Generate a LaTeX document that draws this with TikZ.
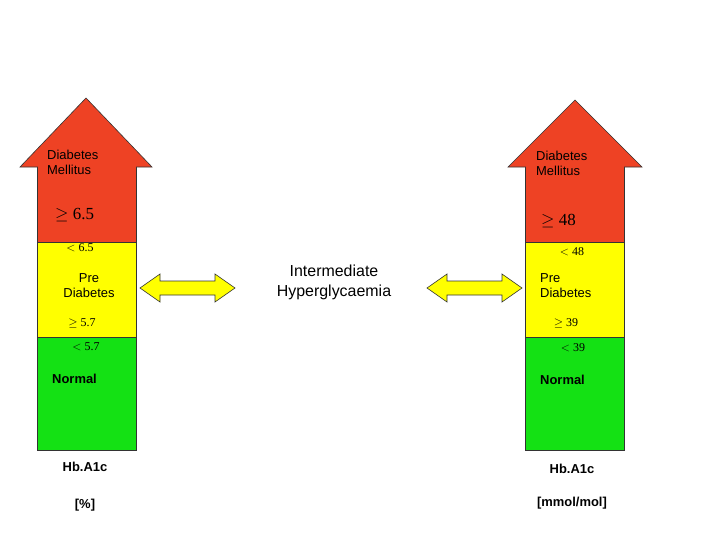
\documentclass[tikz,border=0pt]{standalone}
\usepackage{fontspec}
\setmainfont{Liberation Sans}
\newfontfamily\numfont{Liberation Serif}
\definecolor{dmred}{RGB}{238,66,36}
\definecolor{preyellow}{RGB}{255,255,0}
\definecolor{normgreen}{RGB}{20,225,20}
\tikzset{
  band/.style={draw=black!80,line width=0.6pt},
  lbl/.style={font=\fontsize{13}{15}\selectfont,align=left,inner sep=0pt},
  cut/.style={font=\numfont\fontsize{12}{14}\selectfont,inner sep=0pt},
  big/.style={font=\numfont\fontsize{17}{19}\selectfont,inner sep=0pt},
  dblarrow/.style={draw=black!80,fill=preyellow,line width=0.6pt}
}
\begin{document}
\begin{tikzpicture}[x=0.03528cm,y=-0.03528cm]
  \useasboundingbox (0,0) rectangle (720,540);
  % left column (%)
  \fill[white] (0,0) rectangle (720,540);
  \draw[band,fill=normgreen] (37,337) rectangle (136,450);
  \draw[band,fill=preyellow] (37,242) rectangle (136,337);
  \draw[band,fill=dmred] (37,167) rectangle (136,242);
  \draw[band,fill=dmred] (20,167) -- (86,98) -- (152,167) -- cycle;
  \fill[dmred] (37.5,166) rectangle (135.5,168);
  % right column (mmol/mol)
  \draw[band,fill=normgreen] (525,337) rectangle (624,450);
  \draw[band,fill=preyellow] (525,242) rectangle (624,337);
  \draw[band,fill=dmred] (525,167) rectangle (624,242);
  \draw[band,fill=dmred] (508,167) -- (575,100) -- (642,167) -- cycle;
  \fill[dmred] (525.5,166) rectangle (623.5,168);
  % double arrows
  \draw[dblarrow] (140,288) -- (160,274) -- (160,281) -- (215,281) -- (215,274)
    -- (235,288) -- (215,302) -- (215,295) -- (160,295) -- (160,302) -- cycle;
  \draw[dblarrow] (427,288) -- (447,274) -- (447,281) -- (502,281) -- (502,274)
    -- (522,288) -- (502,302) -- (502,295) -- (447,295) -- (447,302) -- cycle;
  % labels left
  \node[lbl,anchor=west] (dmL) at (47,162) {Diabetes\\Mellitus};
  \node[big,anchor=west] (dmcutL) at (55,215) {$\geq$ 6.5};
  \node[cut] (preupL) at (80,248) {$<$ 6.5};
  \node[lbl,align=center] (preL) at (89,286) {Pre\\Diabetes};
  \node[cut] (prelowL) at (82,323) {$\geq$ 5.7};
  \node[cut] (normupL) at (86,347) {$<$ 5.7};
  \node[lbl,anchor=west,font=\bfseries\fontsize{13}{15}\selectfont] (normL) at (52,379) {Normal};
  \node[lbl,font=\bfseries\fontsize{13}{15}\selectfont] (hbL) at (85,467) {Hb.A1c};
  \node[lbl,font=\bfseries\fontsize{13}{15}\selectfont] (unitL) at (85,505) {[\%]};
  % labels right
  \node[lbl,anchor=west] (dmR) at (536,163) {Diabetes\\Mellitus};
  \node[big,anchor=west] (dmcutR) at (541,221) {$\geq$ 48};
  \node[cut] (preupR) at (572,252) {$<$ 48};
  \node[lbl,anchor=west] (preR) at (540,286) {Pre\\Diabetes};
  \node[cut] (prelowR) at (566,323) {$\geq$ 39};
  \node[cut] (normupR) at (573,348) {$<$ 39};
  \node[lbl,anchor=west,font=\bfseries\fontsize{13}{15}\selectfont] (normR) at (540,380) {Normal};
  \node[lbl,font=\bfseries\fontsize{13}{15}\selectfont] (hbR) at (572,469) {Hb.A1c};
  \node[lbl,font=\bfseries\fontsize{13}{15}\selectfont] (unitR) at (572,503) {[mmol/mol]};
  % middle
  \node[lbl,align=center,font=\fontsize{16}{20}\selectfont] (mid) at (334,282) {Intermediate\\Hyperglycaemia};
\end{tikzpicture}
\end{document}
